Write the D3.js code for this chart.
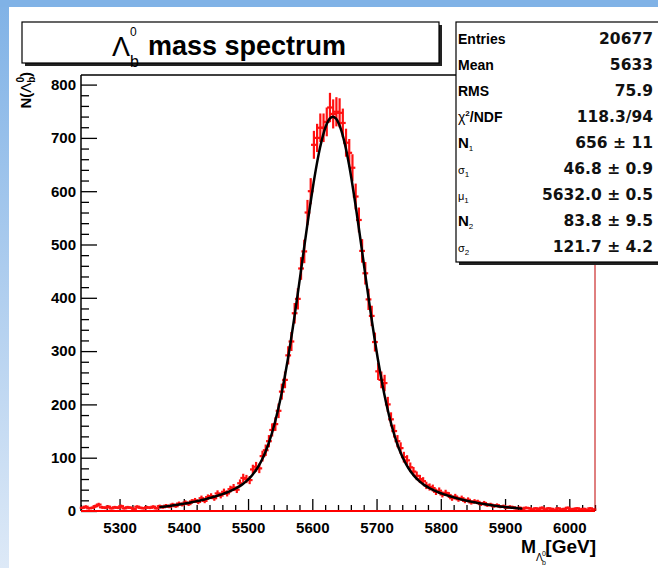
<!DOCTYPE html>
<html><head><meta charset="utf-8">
<script src="https://cdn.jsdelivr.net/npm/d3@7"></script>
<style>body{margin:0;background:#fff;overflow:hidden} svg{display:block}</style>
</head><body><svg id="c" width="658" height="568"></svg>
<script>
// ---------------- data ----------------
const binLow = 5240, binWidth = 5;          // histogram binning (GeV)
const counts = [
6,
8,5,6,9,12,7,6,8,5,7,
6,9,5,7,6,4,8,6,5,7,
6,8,5,9,7,10,8,12,9,14,
12,16,13,18,20,17,24,19,26,28,
24,33,29,36,33,41,44,40,52,62,
60,58,78,83,80,103,114,131,152,163,
188,224,246,292,318,371,398,455,487,560,
600,687,700,719,719,730,757,745,749,747,
728,691,672,644,590,546,488,446,397,366,
317,262,246,240,200,172,150,131,118,101,
95,82,74,66,60,56,48,45,43,36,
38,31,34,30,24,27,22,24,19,21,
16,18,17,13,15,11,12,9,11,8,
9,6,8,7,5,6,4,6,5,3,
5,4,6,3,5,4,2,5,3,4,
6,3,4,5,3,4,2,5,3
];
const fitStart = 5242, fitStep = 5;          // fit curve samples (GeV)
const fitRange = [5360, 5930];               // range over which the fit is drawn
const fitValues = [
0.49,0.56,0.64,0.73,0.83,0.93,1.06,1.19,1.34,1.51,1.69,1.90,2.12,2.37,2.65,2.94,3.27,3.63,4.02,4.45,
4.91,5.41,5.95,6.54,7.17,7.84,8.57,9.34,10.17,11.06,12.00,13.00,14.06,15.18,16.37,17.61,18.92,20.29,21.72,23.3,
24.95,26.65,28.5,30.4,32.5,34.7,37.2,40.0,43.1,46.6,50.7,55.5,61.2,68.0,76.0,85.6,97.1,110.7,126.7,145.4,
167.0,191.7,219.7,250.9,285.3,322.7,362.6,404.5,447.7,491.5,534.7,576.4,615.5,650.8,681.5,706.3,724.7,736.0,
739.8,736.0,724.7,706.3,681.5,650.8,615.5,576.4,534.7,491.5,447.7,404.5,362.6,322.7,285.3,250.9,219.7,191.7,167.0,145.4,
126.7,110.7,97.1,85.6,76.0,68.0,61.2,55.5,50.7,46.6,43.1,40.0,37.2,34.7,32.5,30.4,28.5,26.65,24.95,23.3,
21.72,20.29,18.92,17.61,16.37,15.18,14.06,13.00,12.00,11.06,10.17,9.34,8.57,7.84,7.17,6.54,5.95,5.41,4.91,4.45,
4.02,3.63,3.27,2.94,2.65,2.37,2.12,1.90,1.69,1.51,1.34,1.19,1.06,0.93,0.83,0.73,0.64,0.56,0.49,0.43,0.38,0.33
];
const xMajor = [5300,5400,5500,5600,5700,5800,5900,6000];
const yMajor = [0,100,200,300,400,500,600,700,800];
const statNames  = ["Entries","Mean","RMS","χ2/NDF","N1","σ1","μ1","N2","σ2"];
const statValues = ["20677","5633","75.9","118.3/94","656 ± 11","46.8 ± 0.9","5632.0 ± 0.5","83.8 ± 9.5","121.7 ± 4.2"];

// ---------------- drawing ----------------
const svg = d3.select("#c");
const W = 658, H = 568;
const x = d3.scaleLinear().domain([5240, 6040]).range([81, 595]);
const y = d3.scaleLinear().domain([0, 818]).range([511, 75]);
const LS = "'Liberation Sans', Arial, sans-serif";
const DV = "'DejaVu Sans', sans-serif";

// background frame
const defs = svg.append("defs");
const lg = defs.append("linearGradient").attr("id","lg").attr("x1",0).attr("y1",0).attr("x2",0).attr("y2",1);
lg.append("stop").attr("offset","0").attr("stop-color","#80b2e6");
lg.append("stop").attr("offset","1").attr("stop-color","#dde9f7");
svg.append("rect").attr("width",W).attr("height",H).attr("fill","#fff");
svg.append("rect").attr("x",0).attr("y",0).attr("width",9).attr("height",H).attr("fill","url(#lg)");
svg.append("rect").attr("x",0).attr("y",0).attr("width",W).attr("height",7).attr("fill","#80b2e6");

// minor tick values
const xMinor = d3.range(5240, 6041, 20).filter(v => v % 100 !== 0);
const yMinor = d3.range(0, 818, 20).filter(v => v % 100 !== 0);

// axes
const gx = svg.append("g").attr("transform", `translate(0,${y(0)})`);
gx.call(d3.axisBottom(x).tickValues(xMajor).tickSizeInner(-12).tickSizeOuter(0).tickPadding(11).tickFormat(d3.format("d")));
const gxm = svg.append("g").attr("transform", `translate(0,${y(0)})`);
gxm.call(d3.axisBottom(x).tickValues(xMinor).tickSizeInner(-6).tickSizeOuter(0).tickFormat(""));
const gy = svg.append("g").attr("transform", `translate(${x(5240)},0)`);
gy.call(d3.axisLeft(y).tickValues(yMajor).tickSizeInner(-16).tickSizeOuter(0).tickPadding(5).tickFormat(d3.format("d")));
const gym = svg.append("g").attr("transform", `translate(${x(5240)},0)`);
gym.call(d3.axisLeft(y).tickValues(yMinor).tickSizeInner(-8).tickSizeOuter(0).tickFormat(""));
[gx,gxm,gy,gym].forEach(g => {
  g.select(".domain").remove();
  g.selectAll(".tick line").attr("stroke","#000").attr("stroke-width",1.3);
  g.selectAll("text").attr("font-family",LS).attr("font-weight","bold").attr("font-size",15).attr("fill","#000");
});

// frame
svg.append("line").attr("x1",x(5240)).attr("x2",x(5240)).attr("y1",y(818)).attr("y2",y(0)).attr("stroke","#000").attr("stroke-width",1.5);
svg.append("line").attr("x1",x(5240)).attr("x2",x(6040)).attr("y1",y(818)).attr("y2",y(818)).attr("stroke","#000").attr("stroke-width",1.3);

// data crosses
const bins = counts.map((c,i) => ({lo: binLow + i*binWidth, hi: binLow + (i+1)*binWidth, c}));
const gd = svg.append("g").attr("stroke","#ff1010").attr("stroke-width",2.2);
gd.selectAll("line.v").data(bins).join("line").attr("class","v")
  .attr("x1", d => x((d.lo+d.hi)/2)).attr("x2", d => x((d.lo+d.hi)/2))
  .attr("y1", d => y(d.c + Math.sqrt(d.c))).attr("y2", d => y(Math.max(0, d.c - Math.sqrt(d.c))));
gd.selectAll("line.h").data(bins).join("line").attr("class","h")
  .attr("x1", d => x(d.lo - binWidth*0.4)).attr("x2", d => x(d.hi + binWidth*0.4))
  .attr("y1", d => y(d.c)).attr("y2", d => y(d.c));

// fit curve
const fitPts = fitValues.map((v,i) => [fitStart + i*fitStep, v]).filter(p => p[0] >= fitRange[0] && p[0] <= fitRange[1]);
svg.append("path").datum(fitPts)
  .attr("d", d3.line().x(d => x(d[0])).y(d => y(d[1])).curve(d3.curveCatmullRom))
  .attr("fill","none").attr("stroke","#000").attr("stroke-width",2.5);

// red bottom / right frame edges
svg.append("line").attr("x1",x(5240)).attr("x2",x(6040)).attr("y1",y(0)).attr("y2",y(0)).attr("stroke","#ff0000").attr("stroke-width",2);
svg.append("line").attr("x1",x(6040)).attr("x2",x(6040)).attr("y1",y(818)).attr("y2",y(0)).attr("stroke","#c00000").attr("stroke-width",1);

// axis titles
const yt = svg.append("text").attr("transform","translate(31,72) rotate(-90)")
  .attr("text-anchor","end").attr("font-family",LS).attr("font-weight","bold").attr("font-size",15).attr("fill","#000");
yt.append("tspan").text("N(");
yt.append("tspan").attr("font-weight","normal").text("Λ");
yt.append("tspan").attr("font-size",10).attr("dy",4).text("b");
yt.append("tspan").attr("font-size",10).attr("dx",-6).attr("dy",-11).text("0");
yt.append("tspan").attr("dy",7).text(")");

svg.append("text").attr("x",596).attr("y",553).attr("text-anchor","end")
  .attr("font-family",LS).attr("font-weight","bold").attr("font-size",19).text("[GeV]");
svg.append("text").attr("x",521).attr("y",553).attr("font-family",LS).attr("font-weight","bold").attr("font-size",18).text("M");
svg.append("text").attr("x",536).attr("y",561).attr("font-family",LS).attr("font-size",10).text("Λ");
svg.append("text").attr("x",542).attr("y",556).attr("font-family",LS).attr("font-size",7).text("0");
svg.append("text").attr("x",542).attr("y",565).attr("font-family",LS).attr("font-size",7).text("b");

// stats box
svg.append("rect").attr("x",459).attr("y",25).attr("width",220).attr("height",240).attr("fill","#222");
svg.append("rect").attr("x",456).attr("y",22).attr("width",220).attr("height",240).attr("fill","#fff").attr("stroke","#000").attr("stroke-width",1.2);
statNames.forEach((n,i) => {
  const by = 44 + 26*i;
  const t = svg.append("text").attr("x",458).attr("y",by).attr("font-family",LS).attr("font-weight","bold").attr("font-size",14).attr("fill","#000");
  const base = n.slice(0,1), rest = n.slice(1);
  if (n.startsWith("χ")) {
    t.append("tspan").attr("font-weight","normal").attr("font-size",14).text("χ");
    t.append("tspan").attr("font-size",8).attr("dy",-6).text("2");
    t.append("tspan").attr("dy",6).text("/NDF");
  } else if (/^[Nσμ]\d$/.test(n)) {
    const greek = base !== "N";
    t.append("tspan").attr("font-weight", greek ? "normal" : "bold").attr("font-size", greek ? 11 : 15).text(base);
    t.append("tspan").attr("font-size",8).attr("font-weight","normal").attr("dy",3).text(rest);
  } else {
    t.text(n);
  }
  svg.append("text").attr("x",653).attr("y",by).attr("text-anchor","end")
    .attr("font-family",DV).attr("font-weight","bold").attr("font-size",15.5).attr("fill","#111").text(statValues[i]);
});

// title box
svg.append("rect").attr("x",25).attr("y",25).attr("width",417).attr("height",41).attr("fill","#222");
svg.append("rect").attr("x",22).attr("y",22).attr("width",417).attr("height",41).attr("fill","#fff").attr("stroke","#000").attr("stroke-width",1.2);
svg.append("text").attr("x",112).attr("y",56).attr("font-family",LS).attr("font-size",27).text("Λ");
svg.append("text").attr("x",130).attr("y",36).attr("font-family",LS).attr("font-size",12).text("0");
svg.append("text").attr("x",130).attr("y",67).attr("font-family",LS).attr("font-size",16).text("b");
svg.append("text").attr("x",148).attr("y",55).attr("font-family",LS).attr("font-weight","bold").attr("font-size",27).text("mass spectrum");
</script>
</body></html>
